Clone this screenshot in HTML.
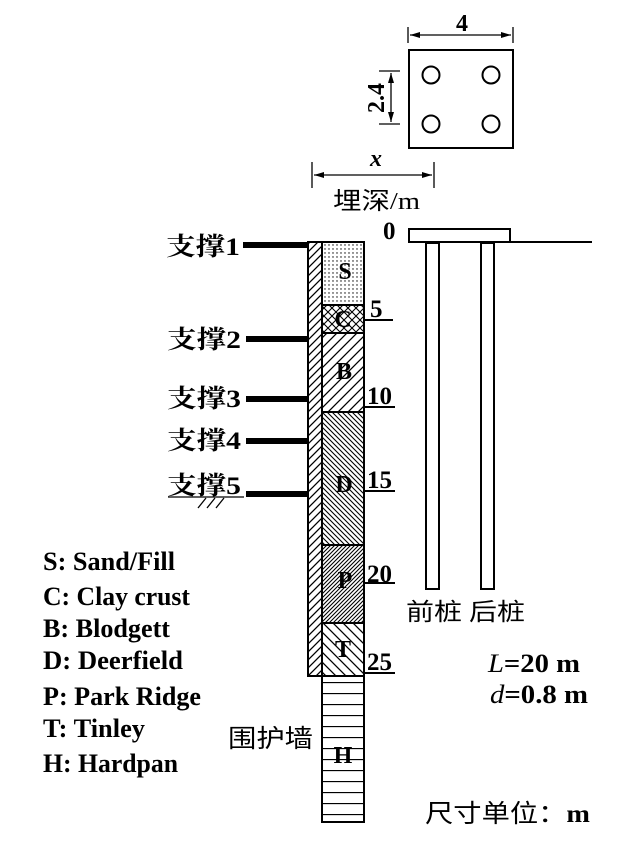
<!DOCTYPE html>
<html><head><meta charset="utf-8"><style>
html,body{margin:0;padding:0;background:#fff}
svg{display:block}
text{font-family:"Liberation Serif","Noto Serif CJK SC",serif;fill:#000;font-weight:bold}
.cn{font-family:"Liberation Serif","Noto Sans CJK SC",sans-serif;font-weight:normal}
</style></head><body>
<svg width="618" height="845" viewBox="0 0 618 845" xmlns="http://www.w3.org/2000/svg">
<defs>
<pattern id="dots" width="4" height="4" patternUnits="userSpaceOnUse"><circle cx="1" cy="1" r="0.7" fill="#000"/></pattern>
<pattern id="fw" width="10" height="10" patternUnits="userSpaceOnUse"><path d="M0,10 L10,0 M-2,2 L2,-2 M8,12 L12,8" stroke="#000" stroke-width="1.3"/></pattern>
<pattern id="fw2" width="8" height="8" patternUnits="userSpaceOnUse"><path d="M0,8 L8,0 M-2,2 L2,-2 M6,10 L10,6" stroke="#000" stroke-width="1.3"/></pattern>
<pattern id="bk" width="5" height="5" patternUnits="userSpaceOnUse"><path d="M0,0 L5,5 M-1,4 L1,6 M4,-1 L6,1" stroke="#000" stroke-width="1.1"/></pattern>
<pattern id="bk2" width="10" height="10" patternUnits="userSpaceOnUse"><path d="M0,0 L10,10 M-2,8 L2,12 M8,-2 L12,2" stroke="#000" stroke-width="1.3"/></pattern>
<pattern id="xx" width="8" height="8" patternUnits="userSpaceOnUse"><path d="M0,0 L8,8 M0,8 L8,0" stroke="#000" stroke-width="1.1"/></pattern>
<pattern id="pp" width="4" height="4" patternUnits="userSpaceOnUse"><rect width="4" height="4" fill="#fff"/><path d="M0,4 L4,0 M-1,1 L1,-1 M3,5 L5,3" stroke="#000" stroke-width="1.1"/></pattern>
<pattern id="hz" width="10" height="11" patternUnits="userSpaceOnUse"><path d="M0,0.5 H10" stroke="#000" stroke-width="1.3"/></pattern>
<marker id="ar" viewBox="0 0 10 6" refX="10" refY="3" markerWidth="10" markerHeight="6" orient="auto-start-reverse" markerUnits="userSpaceOnUse"><path d="M0,0 L10,3 L0,6z" fill="#000"/></marker>
</defs>

<!-- plan view -->
<rect x="409" y="50" width="104" height="98" fill="none" stroke="#000" stroke-width="2"/>
<g fill="none" stroke="#000" stroke-width="2">
<circle cx="431" cy="75" r="8.5"/><circle cx="491" cy="75" r="8.5"/>
<circle cx="431" cy="124" r="8.5"/><circle cx="491" cy="124" r="8.5"/>
</g>
<g stroke="#000" stroke-width="1.3" fill="none">
<line x1="408" y1="27" x2="408" y2="43"/><line x1="513" y1="27" x2="513" y2="43"/>
<line x1="410" y1="35" x2="511" y2="35" marker-start="url(#ar)" marker-end="url(#ar)"/>
<line x1="379" y1="71" x2="400" y2="71"/><line x1="379" y1="124" x2="400" y2="124"/>
<line x1="391" y1="73" x2="391" y2="122" marker-start="url(#ar)" marker-end="url(#ar)"/>
<line x1="312" y1="162" x2="312" y2="188"/><line x1="434" y1="162" x2="434" y2="188"/>
<line x1="314" y1="175" x2="432" y2="175" marker-start="url(#ar)" marker-end="url(#ar)"/>
</g>
<text x="462" y="31" font-size="24" text-anchor="middle" font-weight="normal">4</text>
<text transform="translate(384,98) rotate(-90)" font-size="24" text-anchor="middle" font-weight="normal">2.4</text>
<text x="376" y="166" font-size="24" font-style="italic" text-anchor="middle" font-weight="normal">x</text>
<text x="333" y="209" font-size="24" class="cn" textLength="87" lengthAdjust="spacingAndGlyphs">埋深/m</text>

<!-- ground & piles -->
<line x1="409" y1="242" x2="592" y2="242" stroke="#000" stroke-width="2"/>
<rect x="409" y="229" width="101" height="13" fill="#fff" stroke="#000" stroke-width="2"/>
<rect x="426" y="243" width="13" height="346" fill="none" stroke="#000" stroke-width="2"/>
<rect x="481" y="243" width="13" height="346" fill="none" stroke="#000" stroke-width="2"/>
<text x="406" y="620" font-size="24" class="cn" textLength="119" lengthAdjust="spacingAndGlyphs">前桩 后桩</text>
<text x="488" y="672" font-size="26" textLength="92" lengthAdjust="spacingAndGlyphs"><tspan font-style="italic" font-weight="normal">L</tspan>=20 m</text>
<text x="490" y="703" font-size="26" textLength="98" lengthAdjust="spacingAndGlyphs"><tspan font-style="italic" font-weight="normal">d</tspan>=0.8 m</text>

<!-- wall -->
<rect x="308" y="242" width="14" height="434" fill="url(#fw2)" stroke="#000" stroke-width="2"/>
<!-- soils -->
<g stroke="#000" stroke-width="2">
<rect x="322" y="242" width="42" height="63" fill="url(#dots)"/>
<rect x="322" y="305" width="42" height="28" fill="url(#xx)"/>
<rect x="322" y="333" width="42" height="79" fill="url(#fw)"/>
<rect x="322" y="412" width="42" height="133" fill="url(#bk)"/>
<rect x="322" y="545" width="42" height="78" fill="url(#pp)"/>
<rect x="322" y="623" width="42" height="53" fill="url(#bk2)"/>
<rect x="322" y="676" width="42" height="146" fill="url(#hz)"/>
</g>
<g font-size="24" text-anchor="middle">
<text x="345" y="279">S</text><text x="343" y="327">C</text><text x="344" y="379">B</text>
<text x="344" y="492">D</text><text x="345" y="588">P</text><text x="343" y="657">T</text>
<text x="343" y="763">H</text>
</g>
<!-- depth labels -->
<g font-size="25" font-weight="normal">
<text x="383" y="239">0</text>
<text x="370" y="317">5</text><text x="367" y="404">10</text><text x="367" y="488">15</text>
<text x="367" y="582">20</text><text x="367" y="670">25</text>
</g>
<g stroke="#000" stroke-width="2">
<line x1="364" y1="320" x2="393" y2="320"/><line x1="364" y1="407" x2="395" y2="407"/>
<line x1="364" y1="491" x2="395" y2="491"/><line x1="364" y1="583" x2="395" y2="583"/>
<line x1="364" y1="673" x2="395" y2="673"/>
</g>

<!-- braces -->
<g stroke="#000" stroke-width="6">
<line x1="243" y1="245" x2="308" y2="245"/><line x1="246" y1="339" x2="308" y2="339"/>
<line x1="246" y1="399" x2="308" y2="399"/><line x1="246" y1="441" x2="308" y2="441"/>
<line x1="246" y1="494" x2="308" y2="494"/>
</g>
<g font-size="25" class="cn">
<text x="166" y="255" textLength="74" lengthAdjust="spacingAndGlyphs">支撑1</text>
<text x="167" y="348" textLength="74" lengthAdjust="spacingAndGlyphs">支撑2</text>
<text x="167" y="407" textLength="74" lengthAdjust="spacingAndGlyphs">支撑3</text>
<text x="167" y="449" textLength="74" lengthAdjust="spacingAndGlyphs">支撑4</text>
<text x="167" y="494" textLength="74" lengthAdjust="spacingAndGlyphs">支撑5</text>
</g>
<line x1="168" y1="497" x2="244" y2="497" stroke="#000" stroke-width="1.3"/>
<path d="M198,508 L206,498 M207,508 L215,498 M216,508 L224,498" stroke="#000" stroke-width="1.3"/>

<!-- legend -->
<g font-size="26">
<text x="43" y="570" textLength="132" lengthAdjust="spacingAndGlyphs">S: Sand/Fill</text>
<text x="43" y="605" textLength="147" lengthAdjust="spacingAndGlyphs">C: Clay crust</text>
<text x="43" y="637" textLength="127" lengthAdjust="spacingAndGlyphs">B: Blodgett</text>
<text x="43" y="669" textLength="140" lengthAdjust="spacingAndGlyphs">D: Deerfield</text>
<text x="43" y="705" textLength="158" lengthAdjust="spacingAndGlyphs">P: Park Ridge</text>
<text x="43" y="737" textLength="102" lengthAdjust="spacingAndGlyphs">T: Tinley</text>
<text x="43" y="772" textLength="135" lengthAdjust="spacingAndGlyphs">H: Hardpan</text>
</g>
<text x="228" y="747" font-size="25" class="cn" textLength="85" lengthAdjust="spacingAndGlyphs">围护墙</text>
<text x="425" y="822" font-size="25" class="cn" textLength="165" lengthAdjust="spacingAndGlyphs">尺寸单位：<tspan font-family="Liberation Serif" font-weight="bold">m</tspan></text>
</svg>
</body></html>
